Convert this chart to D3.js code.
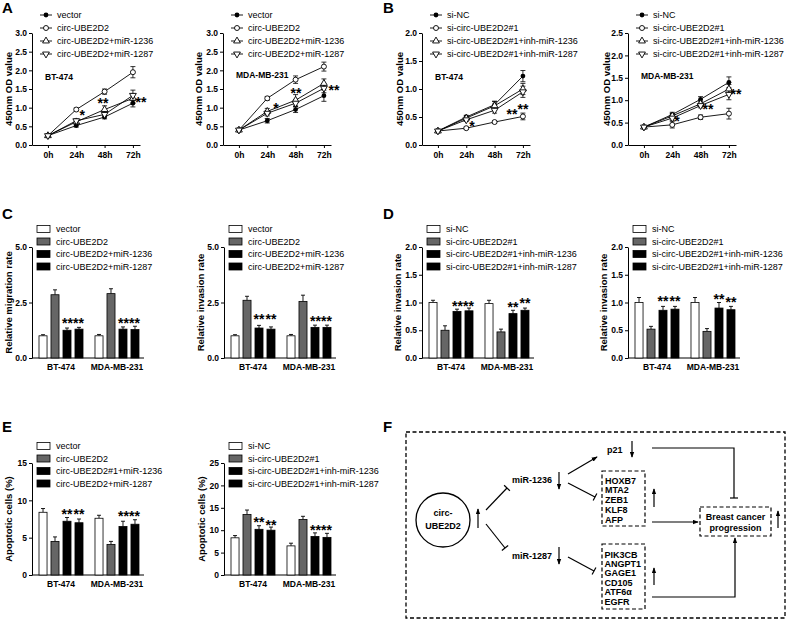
<!DOCTYPE html>
<html><head><meta charset="utf-8">
<script src="https://cdn.jsdelivr.net/npm/d3@7"></script>
<style>body{margin:0;background:#fff} svg{display:block} text{font-family:"Liberation Sans",Arial,sans-serif}</style>
</head><body><svg id="c" width="789" height="621"></svg>
<script>
// ---------------- DATA ----------------
const hours = [0, 24, 48, 72];
const hourLabels = ["0h", "24h", "48h", "72h"];
const cells = ["BT-474", "MDA-MB-231"];
const seriesOE = ["vector", "circ-UBE2D2", "circ-UBE2D2+miR-1236", "circ-UBE2D2+miR-1287"];
const seriesKD = ["si-NC", "si-circ-UBE2D2#1", "si-circ-UBE2D2#1+inh-miR-1236", "si-circ-UBE2D2#1+inh-miR-1287"];
const seriesE1 = ["vector", "circ-UBE2D2", "circ-UBE2D2#1+miR-1236", "circ-UBE2D2+miR-1287"];

// Panel A: OD values (rows = series, cols = hours)
const odA1 = [[0.25,0.52,0.75,1.12],[0.25,0.95,1.43,1.95],[0.25,0.62,0.95,1.25],[0.25,0.65,0.82,1.33]];
const odA1Err = [[0.02,0.04,0.05,0.10],[0.02,0.04,0.07,0.15],[0.02,0.05,0.10,0.12],[0.02,0.05,0.05,0.14]];
const odA2 = [[0.40,0.65,0.95,1.32],[0.40,1.25,1.75,2.10],[0.40,0.90,1.20,1.65],[0.40,0.85,1.12,1.52]];
const odA2Err = [[0.02,0.06,0.08,0.15],[0.02,0.05,0.10,0.12],[0.02,0.08,0.15,0.12],[0.02,0.07,0.10,0.12]];
// Panel B
const odB1 = [[0.25,0.50,0.72,1.23],[0.25,0.30,0.41,0.51],[0.25,0.48,0.70,1.00],[0.25,0.45,0.62,0.95]];
const odB1Err = [[0.02,0.03,0.06,0.10],[0.02,0.02,0.02,0.06],[0.02,0.03,0.08,0.10],[0.02,0.03,0.05,0.10]];
const odB2 = [[0.40,0.68,1.02,1.40],[0.40,0.45,0.62,0.70],[0.40,0.65,0.92,1.25],[0.40,0.60,0.88,1.13]];
const odB2Err = [[0.02,0.05,0.06,0.12],[0.02,0.07,0.05,0.12],[0.02,0.05,0.06,0.10],[0.02,0.05,0.05,0.12]];
// significance marks on line charts: [hour, value, text]
const starsA1 = [[29,0.86,"*"],[46.6,1.2,"**"],[78.8,1.23,"**"]];
const starsA2 = [[31.4,1.07,"*"],[48.3,1.45,"**"],[80.5,1.55,"**"]];
const starsB1 = [[28.9,0.39,"*"],[62.7,0.59,"**"],[72,0.68,"**"]];
const starsB2 = [[28,0.60,"*"],[54.3,0.85,"**"],[78,1.20,"**"]];

// Panel C (rows = cells, cols = series)
const migC = [[1.00,2.85,1.25,1.30],[1.00,2.90,1.30,1.28]];
const migCErr = [[0.05,0.22,0.10,0.08],[0.06,0.22,0.10,0.15]];
const invC = [[1.00,2.60,1.35,1.30],[1.00,2.55,1.38,1.38]];
const invCErr = [[0.05,0.18,0.12,0.10],[0.06,0.28,0.10,0.10]];
// Panel D
const invD1 = [[1.00,0.50,0.84,0.85],[0.98,0.47,0.80,0.86]];
const invD1Err = [[0.04,0.08,0.04,0.05],[0.06,0.05,0.06,0.04]];
const invD2 = [[1.00,0.52,0.86,0.88],[1.00,0.48,0.90,0.87]];
const invD2Err = [[0.09,0.05,0.07,0.05],[0.09,0.05,0.10,0.06]];
// Panel E
const apoE1 = [[8.4,4.5,7.2,7.0],[7.6,4.1,6.5,6.8]];
const apoE1Err = [[0.5,0.6,0.5,0.5],[0.4,0.4,0.7,0.6]];
const apoE2 = [[8.3,13.5,10.2,10.0],[6.5,12.4,8.6,8.4]];
const apoE2Err = [[0.5,1.0,0.8,0.7],[0.6,0.7,0.8,0.9]];
// significance on bar charts: [cellIndex, seriesIndex(center), value, text]
const starsC1 = [[0,2.5,1.71,"****"],[1,2.5,1.71,"****"]];
const starsC2 = [[0,2,1.85,"**"],[0,3,1.85,"**"],[1,2.5,1.76,"****"]];
const starsD1 = [[0,2.5,0.99,"****"],[1,2,0.955,"**"],[1,3,1.045,"**"]];
const starsD2 = [[0,2,1.08,"**"],[0,3,1.08,"**"],[1,2,1.10,"**"],[1,3,1.06,"**"]];
const starsE1 = [[0,2,8.57,"**"],[0,3,8.57,"**"],[1,2.5,8.17,"****"]];
const starsE2 = [[0,2,12.5,"**"],[0,3,11.83,"**"],[1,2.5,10.5,"****"]];

// ---------------- DRAWING ----------------
const svg = d3.select("#c");
const FONT = '"Liberation Sans",Arial,sans-serif';
const barFill = ["#ffffff", "#666666", "#000000", "#000000"];

function styleAxis(g) {
  g.selectAll("path,line").attr("stroke", "#000").attr("stroke-width", 1);
  g.selectAll("text").attr("font-size", 8.5).attr("font-weight", "bold").attr("font-family", FONT).attr("fill", "#000");
}
function panelLetter(t, x, y) {
  svg.append("text").attr("x", x).attr("y", y).attr("font-size", 15).attr("font-weight", "bold").text(t);
}
function yLabel(t, xc, yc) {
  svg.append("text").attr("transform", `translate(${xc + 2},${yc}) rotate(-90)`)
    .attr("text-anchor", "middle").attr("font-size", 9.5).attr("font-weight", "bold").text(t);
}

function symbolFor(i, g) {
  if (i === 0) g.append("circle").attr("r", 2.4).attr("fill", "#000");
  else if (i === 1) g.append("circle").attr("r", 2.5).attr("fill", "#fff").attr("stroke", "#000").attr("stroke-width", 0.9);
  else {
    const p = g.append("path").attr("d", d3.symbol(d3.symbolTriangle, 20)()).attr("fill", "#fff").attr("stroke", "#000").attr("stroke-width", 0.9);
    if (i === 3) p.attr("transform", "rotate(180)");
  }
}

function lineChart(c) {
  const ax = c.ax, yTop = 33, yBot = 145;
  const x = d3.scaleLinear().domain([-13.5, 78]).range([ax, ax + 108]);
  const y = d3.scaleLinear().domain([0, c.yMax]).range([yBot, yTop]);
  svg.append("g").attr("transform", `translate(0,${yBot})`)
    .call(d3.axisBottom(x).tickValues(hours).tickFormat((d, i) => hourLabels[i]).tickSize(3).tickSizeOuter(0).tickPadding(4))
    .call(styleAxis);
  svg.append("g").attr("transform", `translate(${ax},0)`)
    .call(d3.axisLeft(y).tickValues(d3.range(0, c.yMax + 0.01, 0.5)).tickFormat(d3.format(".1f")).tickSize(3).tickSizeOuter(0).tickPadding(2))
    .call(styleAxis);
  yLabel("450nm OD value", c.ylx, (yTop + yBot) / 2);
  const line = d3.line().x((d, i) => x(hours[i])).y(d => y(d));
  c.data.forEach((s, si) => {
    svg.append("path").attr("d", line(s)).attr("fill", "none").attr("stroke", "#000").attr("stroke-width", 0.9);
  });
  c.data.forEach((s, si) => {
    s.forEach((v, i) => {
      const e = c.err[si][i], px = x(hours[i]);
      svg.append("path").attr("d", `M${px},${y(v - e)}V${y(v + e)}M${px - 2.5},${y(v + e)}h5M${px - 2.5},${y(v - e)}h5`)
        .attr("stroke", "#000").attr("stroke-width", 0.8).attr("fill", "none");
    });
  });
  c.data.forEach((s, si) => {
    s.forEach((v, i) => {
      const g = svg.append("g").attr("transform", `translate(${x(hours[i])},${y(v)})`);
      symbolFor(si, g);
    });
  });
  // legend
  c.series.forEach((name, i) => {
    const ly = [15, 28, 41, 54][i];
    svg.append("line").attr("x1", ax + 8).attr("x2", ax + 20).attr("y1", ly).attr("y2", ly).attr("stroke", "#000").attr("stroke-width", 0.9);
    symbolFor(i, svg.append("g").attr("transform", `translate(${ax + 14},${ly})`));
    svg.append("text").attr("x", ax + 25).attr("y", ly + 3.3).attr("font-size", 9).text(name);
  });
  svg.append("text").attr("x", ax + 13).attr("y", c.cellY).attr("font-size", 8.5).attr("font-weight", "bold").text(c.cell);
  c.stars.forEach(s => {
    svg.append("text").attr("x", x(s[0])).attr("y", y(s[1]) + 7.5).attr("text-anchor", "middle")
      .attr("font-size", 14).attr("font-weight", "bold").text(s[2]);
  });
}

function barChart(c) {
  const ax = c.ax, yTop = c.yTop, yBot = c.yBot;
  const y = d3.scaleLinear().domain([0, c.yMax]).range([yBot, yTop]);
  const x0 = d3.scaleBand().domain(cells).range([ax + 7, ax + 107]).paddingInner(0.214).paddingOuter(0);
  const x1 = d3.scaleBand().domain(d3.range(4)).range([0, x0.bandwidth()]).paddingInner(0.33).paddingOuter(0);
  svg.append("line").attr("x1", ax).attr("x2", ax + 112).attr("y1", yBot).attr("y2", yBot).attr("stroke", "#000");
  cells.forEach(cn => {
    svg.append("text").attr("x", x0(cn) + x0.bandwidth() / 2).attr("y", yBot + 12).attr("text-anchor", "middle")
      .attr("font-size", 8.5).attr("font-weight", "bold").text(cn);
  });
  svg.append("g").attr("transform", `translate(${ax},0)`)
    .call(d3.axisLeft(y).tickValues(c.ticks).tickFormat(c.fmt).tickSize(3).tickSizeOuter(0).tickPadding(2))
    .call(styleAxis);
  yLabel(c.ylabel, c.ylx, (yTop + yBot) / 2);
  c.data.forEach((row, ci) => {
    row.forEach((v, si) => {
      const bx = x0(cells[ci]) + x1(si), bw = x1.bandwidth();
      const e = c.err[ci][si];
      svg.append("path").attr("d", `M${bx + bw / 2},${y(v)}V${y(v + e)}M${bx + bw / 2 - 2},${y(v + e)}h4`)
        .attr("stroke", "#000").attr("stroke-width", 0.9);
      svg.append("rect").attr("x", bx).attr("y", y(v)).attr("width", bw).attr("height", yBot - y(v))
        .attr("fill", barFill[si]).attr("stroke", "#000").attr("stroke-width", 0.8);
    });
  });
  c.series.forEach((name, i) => {
    const ly = c.legY + i * 12.5;
    svg.append("rect").attr("x", ax + 5).attr("y", ly - 3.5).attr("width", 13).attr("height", 7)
      .attr("fill", barFill[i]).attr("stroke", "#000").attr("stroke-width", 0.8);
    svg.append("text").attr("x", ax + 24).attr("y", ly + 3.3).attr("font-size", 9).text(name);
  });
  c.stars.forEach(s => {
    const cx = x0(cells[s[0]]) + x1.step() * s[1] + x1.bandwidth() / 2;
    svg.append("text").attr("x", cx).attr("y", y(s[2]) + 7.5).attr("text-anchor", "middle")
      .attr("font-size", 14).attr("font-weight", "bold").text(s[3]);
  });
}

// Panels A, B
panelLetter("A", 2, 13); panelLetter("B", 383, 13);
lineChart({ax: 32, yMax: 3, data: odA1, err: odA1Err, series: seriesOE, cell: "BT-474", cellY: 80, stars: starsA1, ylx: 10});
lineChart({ax: 223, yMax: 3, data: odA2, err: odA2Err, series: seriesOE, cell: "MDA-MB-231", cellY: 78, stars: starsA2, ylx: 200});
lineChart({ax: 422, yMax: 2, data: odB1, err: odB1Err, series: seriesKD, cell: "BT-474", cellY: 80, stars: starsB1, ylx: 401});
lineChart({ax: 628, yMax: 2.5, data: odB2, err: odB2Err, series: seriesKD, cell: "MDA-MB-231", cellY: 79, stars: starsB2, ylx: 608});

// Panels C, D
panelLetter("C", 2, 219); panelLetter("D", 383, 219);
const f1 = d3.format(".1f"), f0 = d3.format("d");
barChart({ax: 32, yTop: 247, yBot: 358, yMax: 5, ticks: [0, 2.5, 5], fmt: f1, data: migC, err: migCErr, series: seriesOE, legY: 229, stars: starsC1, ylabel: "Relative migration rate", ylx: 10});
barChart({ax: 224, yTop: 247, yBot: 358, yMax: 5, ticks: [0, 2.5, 5], fmt: f1, data: invC, err: invCErr, series: seriesOE, legY: 229, stars: starsC2, ylabel: "Relative invasion rate", ylx: 202});
barChart({ax: 422, yTop: 247, yBot: 358, yMax: 2, ticks: [0, 0.5, 1, 1.5, 2], fmt: f1, data: invD1, err: invD1Err, series: seriesKD, legY: 229, stars: starsD1, ylabel: "Relative invasion rate", ylx: 399});
barChart({ax: 628, yTop: 247, yBot: 358, yMax: 2, ticks: [0, 0.5, 1, 1.5, 2], fmt: f1, data: invD2, err: invD2Err, series: seriesKD, legY: 229, stars: starsD2, ylabel: "Relative invasion rate", ylx: 605});

// Panel E
panelLetter("E", 2, 432); panelLetter("F", 383, 432);
barChart({ax: 32, yTop: 463, yBot: 575, yMax: 15, ticks: [0, 5, 10, 15], fmt: f0, data: apoE1, err: apoE1Err, series: seriesE1, legY: 446, stars: starsE1, ylabel: "Apoptotic cells (%)", ylx: 10});
barChart({ax: 224, yTop: 463, yBot: 575, yMax: 25, ticks: [0, 5, 10, 15, 20, 25], fmt: f0, data: apoE2, err: apoE2Err, series: seriesKD, legY: 446, stars: starsE2, ylabel: "Apoptotic cells (%)", ylx: 203});

// Panel F diagram
const defs = svg.append("defs");
defs.append("marker").attr("id", "ah").attr("viewBox", "0 0 8 6").attr("refX", 7).attr("refY", 3)
  .attr("markerWidth", 6).attr("markerHeight", 5).attr("markerUnits", "userSpaceOnUse").attr("orient", "auto")
  .append("path").attr("d", "M0,0L8,3L0,6z").attr("fill", "#000");
const F = svg.append("g").attr("font-family", FONT);
const dash = "4,2.5";
F.append("rect").attr("x", 406).attr("y", 432).attr("width", 379).attr("height", 186)
  .attr("fill", "none").attr("stroke", "#000").attr("stroke-width", 1.3).attr("stroke-dasharray", dash);
F.append("circle").attr("cx", 443).attr("cy", 520).attr("r", 27).attr("fill", "none").attr("stroke", "#000").attr("stroke-width", 1.3);
function ftext(t, x, y, anchor) {
  F.append("text").attr("x", x).attr("y", y).attr("font-size", 9).attr("font-weight", "bold")
    .attr("text-anchor", anchor || "start").text(t);
}
function arrow(pts) {
  F.append("path").attr("d", d3.line()(pts)).attr("fill", "none").attr("stroke", "#000").attr("stroke-width", 1.2).attr("marker-end", "url(#ah)");
}
function inhibit(x1, y1, x2, y2) {
  F.append("line").attr("x1", x1).attr("y1", y1).attr("x2", x2).attr("y2", y2).attr("stroke", "#000").attr("stroke-width", 1.2);
  const dx = x2 - x1, dy = y2 - y1, L = Math.hypot(dx, dy), nx = -dy / L * 4, ny = dx / L * 4;
  F.append("line").attr("x1", x2 - nx).attr("y1", y2 - ny).attr("x2", x2 + nx).attr("y2", y2 + ny).attr("stroke", "#000").attr("stroke-width", 1.2);
}
ftext("circ-", 443, 516, "middle"); ftext("UBE2D2", 443, 529, "middle");
arrow([[478, 528], [478, 509]]);
inhibit(486, 510, 507, 488);
inhibit(486, 524, 505, 548);
ftext("miR-1236", 512, 483); arrow([[559, 472], [559, 489]]);
ftext("miR-1287", 512, 559); arrow([[559, 547], [559, 564]]);
arrow([[568, 474], [597, 457]]);
ftext("p21", 607, 453); arrow([[632, 441], [632, 457]]);
inhibit(568, 483, 595, 497);
inhibit(568, 557, 594, 571);
F.append("rect").attr("x", 602).attr("y", 471).attr("width", 43).attr("height", 55).attr("fill", "none").attr("stroke", "#000").attr("stroke-width", 1.2).attr("stroke-dasharray", dash);
["HOXB7", "MTA2", "ZEB1", "KLF8", "AFP"].forEach((t, i) => ftext(t, 605, 483.5 + i * 9.8));
arrow([[654, 507], [654, 489]]);
arrow([[652, 522], [698, 522]]);
F.append("rect").attr("x", 700).attr("y", 507).attr("width", 71).attr("height", 29).attr("fill", "none").attr("stroke", "#000").attr("stroke-width", 1.2).attr("stroke-dasharray", dash);
ftext("Breast cancer", 735.5, 519.5, "middle"); ftext("progression", 735.5, 530.5, "middle");
arrow([[778, 528], [778, 511]]);
F.append("path").attr("d", "M652,448H734V498").attr("fill", "none").attr("stroke", "#000").attr("stroke-width", 1.2);
F.append("line").attr("x1", 730).attr("x2", 738).attr("y1", 498).attr("y2", 498).attr("stroke", "#000").attr("stroke-width", 1.2);
F.append("rect").attr("x", 602).attr("y", 544).attr("width", 43).attr("height", 65).attr("fill", "none").attr("stroke", "#000").attr("stroke-width", 1.2).attr("stroke-dasharray", dash);
["PIK3CB", "ANGPT1", "GAGE1", "CD105", "ATF6α", "EGFR"].forEach((t, i) => ftext(t, 604.5, 557.5 + i * 9.4));
arrow([[654, 585], [654, 568]]);
arrow([[652, 597], [735, 597], [735, 538]]);
</script></body></html>
